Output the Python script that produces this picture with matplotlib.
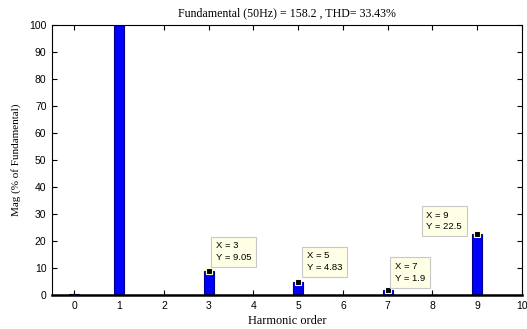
import matplotlib
matplotlib.use("Agg")
import matplotlib.pyplot as plt
import numpy as np

# harmonic spectrum, % of fundamental
orders = np.arange(0, 11)
mags = [0.3, 100, 0.1, 9.05, 0.1, 4.83, 0.1, 1.9, 0.1, 22.5, 0.1]

# data tips shown on the plot
tip_orders = [3, 5, 7, 9]
tip_values = [9.05, 4.83, 1.9, 22.5]
tip_offsets = [(5, 6), (6, 7), (5, 5), (-11, 2)]
tip_align = ["left", "left", "left", "right"]

fig = plt.figure(figsize=(5.27, 3.29), dpi=100)
ax = fig.add_axes([52 / 527, 34 / 329, 470 / 527, 270 / 329])

ax.bar(orders, mags, width=0.22, color="#0000ff", edgecolor="#00008b", linewidth=0.8, zorder=2)

ax.set_xlim(-0.5, 10)
ax.set_ylim(0, 100)
ax.set_xticks(range(0, 11))
ax.set_yticks(range(0, 101, 10))
ax.tick_params(direction="in", length=3.5, top=True, right=True, labelsize=7.5, pad=4)
for lab in ax.get_xticklabels() + ax.get_yticklabels():
    lab.set_family("Liberation Sans")
for s in ax.spines.values():
    s.set_linewidth(0.8)
ax.spines["bottom"].set_linewidth(1.8)

ax.set_title("Fundamental (50Hz) = 158.2 , THD= 33.43%", family="Liberation Serif", fontsize=8.6, pad=6)
ax.set_xlabel("Harmonic order", family="Liberation Serif", fontsize=8.8, labelpad=3)
ax.set_ylabel("Mag (% of Fundamental)", family="Liberation Serif", fontsize=8, labelpad=6)

for x, y, off, ha in zip(tip_orders, tip_values, tip_offsets, tip_align):
    ax.plot(x, y, "s", color="black", markersize=5, markeredgecolor="#ffffc8", markeredgewidth=0.8, zorder=4, clip_on=False)
    ax.annotate("X = %d\nY = %s" % (x, y), xy=(x, y), xytext=off, textcoords="offset points",
                ha=ha, va="bottom", multialignment="left", fontsize=6.8, family="Liberation Sans",
                linespacing=1.4,
                bbox=dict(boxstyle="square,pad=0.5", fc="#ffffe6", ec="#c8c8c8", lw=0.8), zorder=5)

fig.savefig("out.png", dpi=100)
